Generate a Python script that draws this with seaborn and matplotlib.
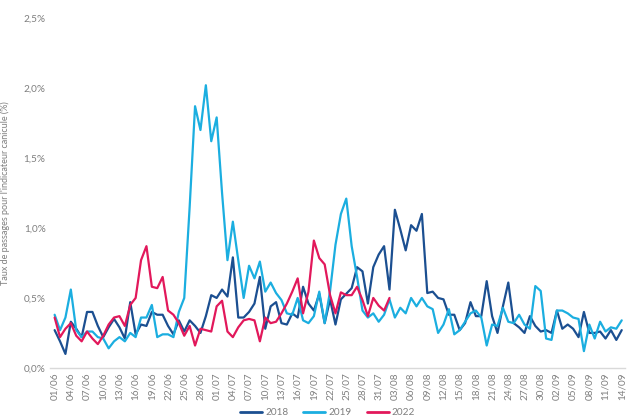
import matplotlib
matplotlib.use("Agg")
import matplotlib.pyplot as plt
import seaborn as sns
import pandas as pd
import numpy as np

# ---- data (daily values, 01/06 -> 14/09) ----
dates = pd.date_range("2022-06-01", "2022-09-14", freq="D").strftime("%d/%m").tolist()

v2018 = [0.27, 0.19, 0.10, 0.33, 0.28, 0.22, 0.40, 0.40, 0.30, 0.22,
         0.29, 0.35, 0.29, 0.21, 0.47, 0.24, 0.31, 0.30, 0.40, 0.38,
         0.38, 0.30, 0.24, 0.34, 0.26, 0.34, 0.30, 0.25, 0.37, 0.52,
         0.50, 0.56, 0.51, 0.79, 0.36, 0.36, 0.40, 0.46, 0.65, 0.28,
         0.44, 0.47, 0.32, 0.31, 0.39, 0.36, 0.58, 0.46, 0.41, 0.53,
         0.32, 0.49, 0.31, 0.49, 0.53, 0.57, 0.72, 0.69, 0.46, 0.72,
         0.81, 0.87, 0.56, 1.13, 0.99, 0.84, 1.02, 0.98, 1.10, 0.535,
         0.545, 0.50, 0.49, 0.38, 0.38, 0.27, 0.32, 0.47, 0.37, 0.37,
         0.62, 0.37, 0.25, 0.44, 0.61, 0.32, 0.29, 0.25, 0.37, 0.30,
         0.26, 0.27, 0.25, 0.41, 0.28, 0.31, 0.28, 0.22, 0.40, 0.25,
         0.25, 0.26, 0.21, 0.27, 0.20, 0.27]

v2019 = [0.38, 0.27, 0.36, 0.56, 0.27, 0.22, 0.26, 0.26, 0.22, 0.21,
         0.14, 0.19, 0.22, 0.19, 0.25, 0.22, 0.36, 0.36, 0.45, 0.22,
         0.24, 0.24, 0.22, 0.40, 0.50, 1.15, 1.87, 1.70, 2.02, 1.62,
         1.79, 1.25, 0.77, 1.045, 0.77, 0.50, 0.73, 0.64, 0.76, 0.545,
         0.61, 0.535, 0.485, 0.39, 0.38, 0.50, 0.34, 0.32, 0.37, 0.545,
         0.32, 0.55, 0.88, 1.10, 1.21, 0.87, 0.65, 0.41, 0.36, 0.39,
         0.33, 0.38, 0.49, 0.36, 0.43, 0.39, 0.50, 0.44, 0.50, 0.44,
         0.42, 0.25, 0.31, 0.42, 0.24, 0.27, 0.33, 0.39, 0.41, 0.36,
         0.16, 0.31, 0.30, 0.43, 0.33, 0.32, 0.38, 0.31, 0.28, 0.585,
         0.55, 0.21, 0.20, 0.41, 0.41, 0.39, 0.36, 0.35, 0.12, 0.31,
         0.21, 0.33, 0.26, 0.29, 0.28, 0.34]

v2022 = [0.36, 0.22, 0.28, 0.32, 0.23, 0.19, 0.26, 0.21, 0.17, 0.23,
         0.31, 0.36, 0.37, 0.30, 0.45, 0.50, 0.77, 0.87, 0.58, 0.57,
         0.65, 0.41, 0.38, 0.32, 0.23, 0.30, 0.16, 0.28, 0.27, 0.26,
         0.44, 0.48, 0.26, 0.22, 0.29, 0.34, 0.35, 0.34, 0.19, 0.36,
         0.32, 0.33, 0.39, 0.46, 0.545, 0.64, 0.39, 0.545, 0.91, 0.785,
         0.74, 0.52, 0.39, 0.54, 0.52, 0.52, 0.58, 0.485, 0.37, 0.50,
         0.445, 0.41, 0.50]

years = ["2018", "2019", "2022"]
colors = ["#1B4F91", "#1BAEE0", "#E2185B"]
ytick_vals = [0.0, 0.5, 1.0, 1.5, 2.0, 2.5]
ytick_labels = ["0,0%", "0,5%", "1,0%", "1,5%", "2,0%", "2,5%"]

rows = []
for yr, vals in zip(years, [v2018, v2019, v2022]):
    for i, v in enumerate(vals):
        rows.append({"day": i, "value": v, "year": yr})
df = pd.DataFrame(rows)

sns.set_theme(style="white")
plt.rcParams["font.family"] = ["Lato", "DejaVu Sans"]

fig = plt.figure(figsize=(6.3, 4.2), dpi=100)
ax = fig.add_axes([0.079, 0.124, 0.913, 0.833])

sns.lineplot(data=df, x="day", y="value", hue="year", palette=dict(zip(years, colors)),
             linewidth=1.6, ax=ax, legend=False)

ax.set_xlim(-0.9, 105.6)
ax.set_ylim(0, 2.5)
ax.set_yticks(ytick_vals)
ax.set_yticklabels(ytick_labels, fontsize=7.2, color="#7F7F7F")
xt = list(range(0, len(dates), 3))
ax.set_xticks(xt)
ax.set_xticklabels([dates[i] for i in xt], rotation=90, fontsize=7.2, color="#7F7F7F")
ax.tick_params(axis="both", length=0, pad=3)
ax.set_xlabel("")
ax.set_ylabel("Taux de passages pour l'indicateur canicule (%)", fontsize=6.5, color="#7F7F7F", labelpad=10)

for s in ["top", "right", "left"]:
    ax.spines[s].set_visible(False)
ax.spines["bottom"].set_color("#D9D9D9")
ax.spines["bottom"].set_linewidth(1)
ax.grid(False)

from matplotlib.lines import Line2D
handles = [Line2D([0], [0], color=c, lw=2) for c in colors]
fig.legend(handles, years, loc="lower center", bbox_to_anchor=(0.52, -0.015), ncol=3,
           frameon=False, fontsize=7.2, handlelength=2.2, handletextpad=0.3, columnspacing=1.5,
           labelcolor="#7F7F7F")

fig.savefig("out.png", dpi=100)
